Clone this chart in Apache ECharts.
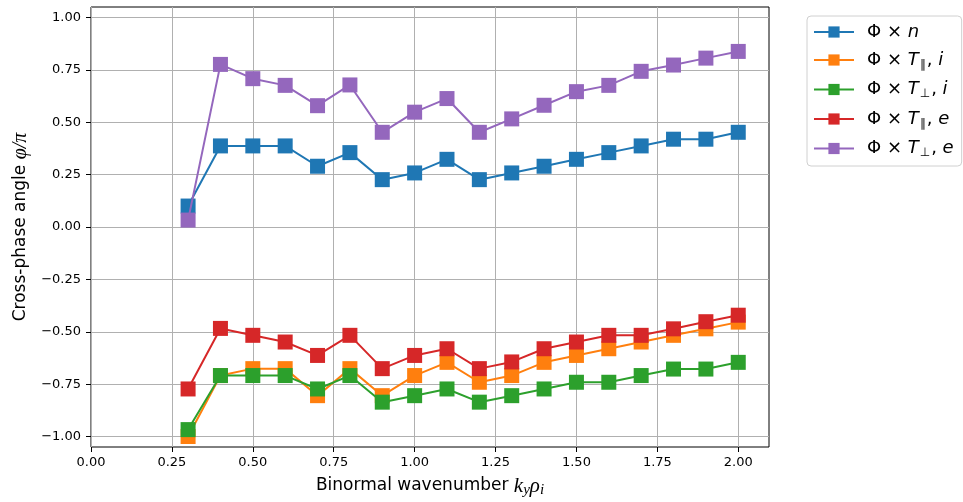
<!DOCTYPE html>
<html>
<head>
<meta charset="utf-8">
<script src="https://cdn.jsdelivr.net/npm/echarts@6/dist/echarts.min.js"></script>
<style>
  html, body { margin: 0; padding: 0; background: #fff; }
  #chart { width: 963px; height: 502px; }
</style>
</head>
<body>
<div id="chart"></div>
<script>
// Binormal wavenumber k_y rho_i
const kyRho = [0.3, 0.4, 0.5, 0.6, 0.7, 0.8, 0.9, 1.0, 1.1, 1.2, 1.3, 1.4, 1.5, 1.6, 1.7, 1.8, 1.9, 2.0];

// Cross-phase angle phi/pi for each channel
const phiN      = [0.100, 0.387, 0.387, 0.387, 0.290, 0.355, 0.226, 0.258, 0.323, 0.226, 0.258, 0.290, 0.323, 0.355, 0.387, 0.419, 0.419, 0.452];
const phiTparI  = [-1.000, -0.709, -0.676, -0.676, -0.805, -0.676, -0.805, -0.709, -0.646, -0.741, -0.709, -0.646, -0.613, -0.581, -0.549, -0.517, -0.486, -0.454];
const phiTperpI = [-0.967, -0.709, -0.709, -0.709, -0.773, -0.709, -0.836, -0.805, -0.773, -0.836, -0.805, -0.773, -0.741, -0.741, -0.709, -0.678, -0.678, -0.646];
const phiTparE  = [-0.773, -0.484, -0.517, -0.549, -0.613, -0.517, -0.676, -0.613, -0.581, -0.676, -0.644, -0.581, -0.549, -0.517, -0.517, -0.486, -0.452, -0.421];
const phiTperpE = [0.033, 0.776, 0.708, 0.676, 0.579, 0.678, 0.452, 0.548, 0.613, 0.452, 0.516, 0.581, 0.646, 0.676, 0.743, 0.773, 0.806, 0.838];

// Tick positions
const xTicks = [0, 0.25, 0.5, 0.75, 1.0, 1.25, 1.5, 1.75, 2.0];
const yTicks = [-1.0, -0.75, -0.5, -0.25, 0, 0.25, 0.5, 0.75, 1.0];

const seriesNames = ['phiN', 'phiTparI', 'phiTperpI', 'phiTparE', 'phiTperpE'];
const seriesData = [phiN, phiTparI, phiTperpI, phiTparE, phiTperpE];
const colors = ['#1f77b4', '#ff7f0e', '#2ca02c', '#d62728', '#9467bd'];

// Legend labels in rich text: Phi x n, Phi x T_par, i, ...
const legendText = {
  phiN:      '{g|}{r|Φ × }{it|n}',
  phiTparI:  '{g|}{r|Φ × }{it|T}{sub|∥}{r|, }{it|i}',
  phiTperpI: '{g|}{r|Φ × }{it|T}{sub|⊥}{r|, }{it|i}',
  phiTparE:  '{g|}{r|Φ × }{it|T}{sub|∥}{r|, }{it|e}',
  phiTperpE: '{g|}{r|Φ × }{it|T}{sub|⊥}{r|, }{it|e}'
};

const fmt = v => v.toFixed(2).replace('-', '\u2212');

const chart = echarts.init(document.getElementById('chart'), null, { renderer: 'canvas' });

chart.setOption({
  animation: false,
  backgroundColor: '#fff',
  textStyle: { fontFamily: 'DejaVu Sans' },
  grid: {
    left: 91, top: 7, right: 194, bottom: 55,
    outerBoundsMode: 'none',
    containLabel: false,
    show: true, borderColor: '#000', borderWidth: 1, backgroundColor: 'transparent'
  },
  legend: {
    orient: 'vertical',
    left: 807, top: 16,
    itemWidth: 40, itemHeight: 14,
    itemGap: 10,
    padding: [7, 8, 7, 6],
    borderColor: '#d0d0d0', borderWidth: 1, borderRadius: 4,
    data: seriesNames,
    formatter: name => legendText[name],
    textStyle: {
      color: '#000',
      rich: {
        g:   { width: 8, fontSize: 18, lineHeight: 20 },
        r:   { fontFamily: 'DejaVu Sans', fontSize: 18, lineHeight: 20, color: '#000' },
        it:  { fontFamily: 'DejaVu Sans', fontStyle: 'italic', fontSize: 18, lineHeight: 20, color: '#000' },
        sub: { fontFamily: 'DejaVu Sans', fontSize: 12, color: '#000', padding: [9, 1, 0, 1] }
      }
    }
  },
  xAxis: {
    type: 'value',
    min: 0, max: 2.095,
    name: '{t|Binormal wavenumber }{m|k}{s|y}{m|ρ}{s|i}',
    nameLocation: 'middle',
    nameGap: 27,
    nameTextStyle: {
      rich: {
        t: { fontFamily: 'DejaVu Sans', fontSize: 17, color: '#000' },
        m: { fontFamily: 'Liberation Serif', fontStyle: 'italic', fontSize: 21, color: '#000' },
        s: { fontFamily: 'Liberation Serif', fontStyle: 'italic', fontSize: 15, color: '#000', padding: [9, 0, 0, 0] }
      }
    },
    axisLine: { show: false, onZero: false },
    axisTick: { show: true, inside: false, length: 5, lineStyle: { color: '#000', width: 1 }, customValues: xTicks },
    axisLabel: { color: '#000', fontSize: 13, margin: 9, customValues: xTicks, formatter: v => fmt(v) },
    splitLine: { show: true, lineStyle: { color: '#b0b0b0', width: 1 } }
  },
  yAxis: {
    type: 'value',
    min: -1.05, max: 1.05,
    name: '{t|Cross-phase angle }{m|φ/π}',
    nameLocation: 'middle',
    nameGap: 60,
    nameRotate: 90,
    nameTextStyle: {
      rich: {
        t: { fontFamily: 'DejaVu Sans', fontSize: 17, color: '#000' },
        m: { fontFamily: 'Liberation Serif', fontStyle: 'italic', fontSize: 20, color: '#000' }
      }
    },
    axisLine: { show: false, onZero: false },
    axisTick: { show: true, inside: false, length: 5, lineStyle: { color: '#000', width: 1 }, customValues: yTicks },
    axisLabel: { color: '#000', fontSize: 13, margin: 10, customValues: yTicks, formatter: v => fmt(v) },
    splitLine: { show: true, lineStyle: { color: '#b0b0b0', width: 1 } }
  },
  series: seriesNames.map((name, i) => ({
    name: name,
    type: 'line',
    data: kyRho.map((x, j) => [x, seriesData[i][j]]),
    symbol: 'rect',
    symbolSize: 15,
    color: colors[i],
    lineStyle: { color: colors[i], width: 2 },
    itemStyle: { color: colors[i] },
    z: 2 + i,
    emphasis: { disabled: true }
  }))
});
</script>
</body>
</html>
